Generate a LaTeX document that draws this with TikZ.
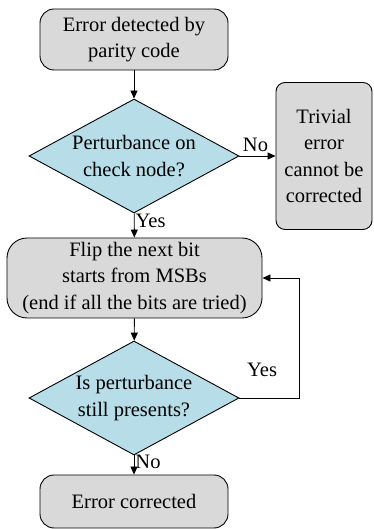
\documentclass[tikz,border=0pt]{standalone}
\usepackage{fontspec}
\setmainfont{Liberation Serif}
\usetikzlibrary{shapes.geometric,arrows.meta}
\definecolor{boxgray}{RGB}{217,217,217}
\definecolor{testblue}{RGB}{183,221,232}
\begin{document}
\begin{tikzpicture}[x=1pt,y=1pt,
			every node/.style = {align=center, font=\fontsize{20.5}{26.5}\selectfont},
			stepbox/.style = {draw, fill=boxgray, rounded corners=14pt, line width=0.9pt, inner sep=0pt},
			test/.style = {draw, fill=testblue, diamond, shape aspect=1.84, inner sep=-2pt,
				minimum width=210pt, minimum height=114pt, line width=0.9pt},
			flow/.style = {-{Triangle[length=8pt,width=7pt]}, line width=0.9pt}]
			
			\useasboundingbox (0,0) rectangle (373,529);
			\node[stepbox, minimum width=188pt, minimum height=61pt] (detect) at (134,489.5) {Error detected by\\parity code};
			\node[test] (check) at (134,373) {Perturbance on\\check node?};
			\node[stepbox, rounded corners=9pt, minimum width=96pt, minimum height=147pt] (trivial) at (324,373) {Trivial\\error\\cannot be\\corrected};
			\node[stepbox, rounded corners=20pt, minimum width=255pt, minimum height=80pt] (flip) at (134.5,251) {Flip the next bit\\starts from MSBs\\(end if all the bits are tried)};
			\node[test] (still) at (134,131) {Is perturbance\\still presents?};
			\node[stepbox, minimum width=188pt, minimum height=53pt] (done) at (134,27.5) {Error corrected};
			\coordinate (back) at (299,251);
			
			\draw[flow] (detect) -- (check);
			\draw[flow] (check) -- node[above, inner sep=1pt, xshift=-2pt, yshift=3pt] {No} (trivial);
			\draw[flow] (check) -- node[right, inner sep=1pt, pos=0.3] {Yes} (flip);
			\draw[flow] (flip) -- (still);
			\draw[flow] (still.east) -| node[pos=0.19, above=18pt] {Yes} (back) -- (flip.east);
			\draw[flow] (still) -- node[right, inner sep=1pt, pos=0.35] {No} (done);
			\end{tikzpicture}
\end{document}
